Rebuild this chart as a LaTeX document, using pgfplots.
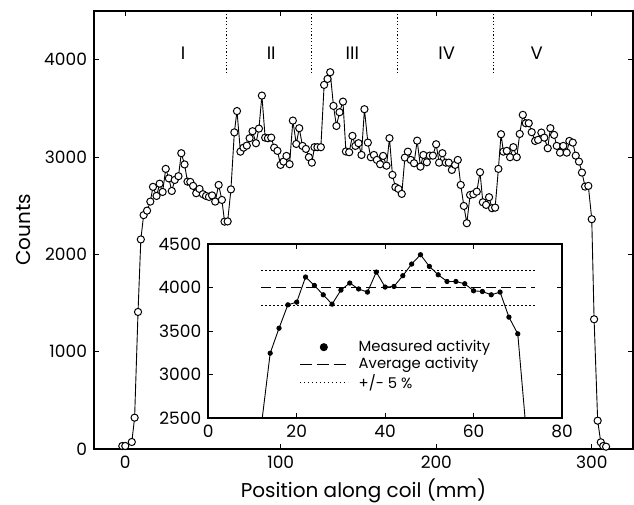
\documentclass[border=0pt]{standalone}
\usepackage{fontspec}
\setmainfont{Poppins}
\usepackage{pgfplots}
\pgfplotsset{compat=1.18}

\pgfplotsset{
  framestyle/.style={
    scale only axis,
    tick align=inside,
    major tick length=2.5pt,
    axis line style={line width=1pt},
    every tick/.style={black, line width=0.5pt},
    tick label style={font=\fontsize{8.5}{10}\selectfont},
    label style={font=\fontsize{10}{11}\selectfont},
    /pgf/number format/assume math mode=true,
    /pgf/number format/set thousands separator={},
  },
}

\begin{document}
\begin{tikzpicture}
% ---- main axis: counts along the coil ----
\begin{axis}[
    framestyle,
    name=main,
    at={(0,0)}, anchor=south west,
    width=269.5pt, height=219pt,
    xmin=-20, xmax=326.4, ymin=0, ymax=4500,
    xtick={0,100,200,300},
    ytick={0,1000,2000,3000,4000},
    xlabel={Position along coil (mm)},
    xlabel style={yshift=2pt},
    ylabel={Counts},
]
% region borders
\addplot[black, line width=0.5pt, dash pattern=on 0.6pt off 1.1pt] coordinates {(65,3864)(65,4500)};
\addplot[black, line width=0.5pt, dash pattern=on 0.6pt off 1.1pt] coordinates {(120,3864)(120,4500)};
\addplot[black, line width=0.5pt, dash pattern=on 0.6pt off 1.1pt] coordinates {(175,3864)(175,4500)};
\addplot[black, line width=0.5pt, dash pattern=on 0.6pt off 1.1pt] coordinates {(237,3864)(237,4500)};
\node[font=\fontsize{9}{10}\selectfont] at (axis cs:37.2,4070) {I};
\node[font=\fontsize{9}{10}\selectfont] at (axis cs:93.9,4070) {II};
\node[font=\fontsize{9}{10}\selectfont] at (axis cs:146,4070) {III};
\node[font=\fontsize{9}{10}\selectfont] at (axis cs:206.7,4070) {IV};
\node[font=\fontsize{9}{10}\selectfont] at (axis cs:264.5,4070) {V};
% measured counts
\addplot[black, line width=0.45pt, mark=*, mark size=1.8pt,
         mark options={fill=white, line width=0.5pt}] coordinates {
(-1.8,31)(0.1,31)(4.3,72)(6.1,322)(8.3,1408)(10.1,2153)(11.9,2403)(14.1,2449)
(16.2,2542)(17.9,2693)(20.2,2600)(22.2,2726)(24.1,2641)(26.1,2878)(28.1,2780)
(30.0,2651)(31.9,2764)(34.3,2803)(36.1,3039)(38.2,2924)(40.1,2747)(41.9,2744)
(43.7,2703)(45.7,2628)(47.8,2672)(50.0,2618)(52.0,2600)(53.9,2590)(55.9,2605)
(57.9,2542)(60.1,2713)(62.2,2559)(63.9,2336)(65.9,2338)(68.0,2667)(70.2,3253)
(71.9,3472)(74.1,3055)(76.1,3096)(78.2,3117)(80.0,3193)(81.9,3265)(84.1,3142)
(86.0,3292)(87.9,3631)(90.0,3199)(91.8,3193)(93.9,3199)(95.8,3096)(97.9,3063)
(99.9,2919)(101.8,2953)(103.7,3011)(105.7,2926)(107.8,3374)(110.0,3134)
(111.9,3296)(114.0,3114)(116.2,3083)(118.1,2998)(120.0,2942)(121.7,3101)
(123.6,3101)(125.8,3101)(127.9,3741)(130.1,3802)(131.8,3871)(133.9,3525)
(135.8,3319)(137.8,3460)(140.0,3569)(141.9,3057)(144.0,3049)(146.1,3217)
(148.0,3114)(150.0,3142)(151.9,3021)(153.8,3491)(156.0,3148)(157.9,2998)
(159.9,3021)(161.8,2970)(163.9,2926)(165.8,3011)(168.0,2911)(169.9,3193)
(171.8,2816)(173.7,2690)(175.7,2672)(177.8,2621)(179.8,2994)(181.7,3055)
(183.6,2970)(185.7,2936)(187.7,3168)(189.8,2901)(191.7,3021)(193.9,2946)
(195.8,3014)(197.8,3014)(199.9,3131)(201.8,2942)(203.9,3039)(206.1,2942)
(208.0,2942)(210.0,2867)(212.1,2919)(213.8,2970)(215.7,2713)(217.7,2497)
(219.6,2320)(221.7,2610)(223.8,2618)(226.0,2644)(228.1,2844)(229.9,2535)
(232.0,2508)(233.9,2587)(235.8,2474)(237.8,2480)(239.9,2878)(241.6,3234)
(243.1,3055)(245.3,3063)(247.4,2998)(249.5,3101)(251.7,2998)(253.6,3237)
(255.6,3433)(257.5,3347)(259.4,3347)(261.3,3255)(263.5,3165)(265.4,3176)
(267.5,3251)(269.4,3199)(271.6,3090)(273.3,3296)(275.7,3227)(277.4,3114)
(279.5,3045)(281.6,3114)(283.8,3045)(285.5,3165)(287.7,3148)(289.6,3014)
(291.7,2953)(293.6,2840)(295.6,2696)(297.7,2703)(299.9,2361)(301.4,1333)
(303.7,291)(305.7,69)(307.3,31)(309.1,24)
};
\end{axis}

% ---- inset: activity in the central part ----
\begin{axis}[
    framestyle,
    at={(57.15pt,15.35pt)}, anchor=south west,
    width=176.85pt, height=87.15pt,
    axis background/.style={fill=white},
    xmin=0, xmax=80, ymin=2500, ymax=4500,
    xtick={0,20,40,60,80},
    ytick={2500,3000,3500,4000,4500},
    legend style={draw=none, fill=none, at={(axis cs:20.5,3430)}, anchor=north west,
                  inner sep=0pt, row sep=-1pt, column sep=4pt,
                  font=\fontsize{7.4}{8.5}\selectfont,
                  nodes={inner sep=1.2pt}},
    legend cell align=left,
    legend image code/.code={\draw[#1] (0pt,0pt) -- (24pt,0pt);},
]
\addplot[black, line width=0.5pt, dash pattern=on 5pt off 2.5pt, forget plot] coordinates {(12,4000)(74,4000)};
\addplot[black, line width=0.5pt, dash pattern=on 0.6pt off 1.4pt, forget plot] coordinates {(12,4200)(74,4200)};
\addplot[black, line width=0.5pt, dash pattern=on 0.6pt off 1.4pt, forget plot] coordinates {(12,3800)(74,3800)};
\addplot[black, line width=0.45pt, forget plot] coordinates {
(12,2417)(14,3247)(16,3534)(18,3802)(20,3833)(22,4121)(24,4024)(26,3917)
(28,3810)(30,3971)(32,4052)(34,3984)(36,3948)(38,4178)(40,4006)(42,4013)
(44,4136)(46,4270)(48,4377)(50,4243)(52,4147)(54,4070)(56,4070)(58,4044)
(60,3963)(62,3955)(64,3917)(66,3948)(68,3661)(70,3469)(72,2295)
};
\addplot[black, only marks, mark=*, mark size=1.1pt, forget plot] coordinates {
(14,3247)(16,3534)(18,3802)(20,3833)(22,4121)(24,4024)(26,3917)
(28,3810)(30,3971)(32,4052)(34,3984)(36,3948)(38,4178)(40,4006)(42,4013)
(44,4136)(46,4270)(48,4377)(50,4243)(52,4147)(54,4070)(56,4070)(58,4044)
(60,3963)(62,3955)(64,3917)(66,3948)(68,3661)(70,3469)
};
\addlegendimage{legend image code/.code={\fill[black] (12pt,0pt) circle (1.8pt);}}
\addlegendentry{Measured activity}
\addlegendimage{black, line width=0.5pt, dash pattern=on 6pt off 2.5pt}
\addlegendentry{Average activity}
\addlegendimage{black, line width=0.5pt, dash pattern=on 0.6pt off 1.4pt}
\addlegendentry{+/- 5 \%}
\end{axis}

\pgfresetboundingbox
\useasboundingbox (-47pt,-28pt) rectangle (270pt,224.5pt);
\end{tikzpicture}
\end{document}
